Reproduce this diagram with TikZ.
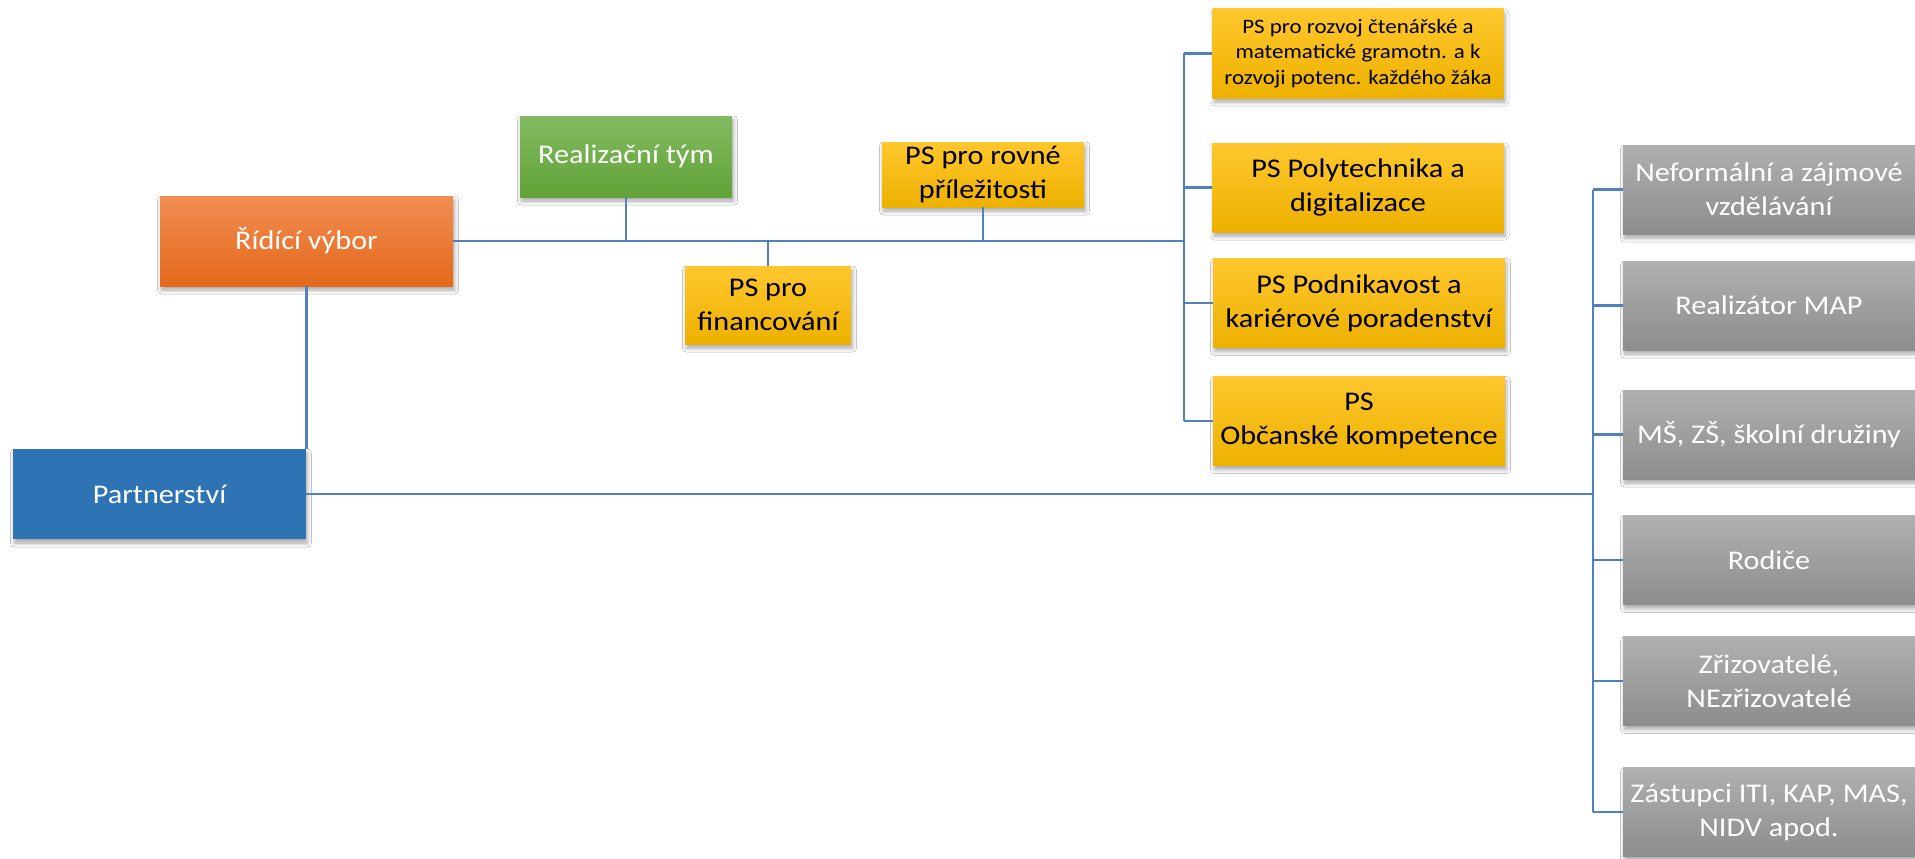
\documentclass[tikz,border=0pt]{standalone}
\usepackage{fontspec}
\setmainfont{Carlito}[FakeStretch=1.12]
\usetikzlibrary{shadows.blur}
\definecolor{lineblue}{HTML}{4F81BD}
\definecolor{orangeT}{HTML}{F28D52}
\definecolor{orangeB}{HTML}{E3691B}
\definecolor{greenT}{HTML}{82BB60}
\definecolor{greenB}{HTML}{61A239}
\definecolor{yellowT}{HTML}{FFC72E}
\definecolor{yellowB}{HTML}{EDB100}
\definecolor{blueF}{HTML}{2E74B5}
\definecolor{grayT}{HTML}{B0B0B0}
\definecolor{grayB}{HTML}{8D8D8D}
\tikzset{
  boxbase/.style={rectangle, inner sep=0pt, align=center,
    font=\fontsize{27}{34}\selectfont,
    blur shadow={shadow xshift=1.5pt, shadow yshift=-4pt, shadow blur steps=6, shadow blur radius=4pt, shadow opacity=35}},
  orangebox/.style={boxbase, top color=orangeT, bottom color=orangeB, text=white},
  greenbox/.style={boxbase, top color=greenT, bottom color=greenB, text=white},
  yellowbox/.style={boxbase, top color=yellowT, bottom color=yellowB, text=black},
  bluebox/.style={boxbase, fill=blueF, text=white},
  graybox/.style={boxbase, top color=grayT, bottom color=grayB, text=white,
    minimum width=292pt, minimum height=89pt},
  conn/.style={draw=lineblue, line width=2.2pt}
}
\begin{document}
\begin{tikzpicture}[x=1pt, y=-1pt]
\fill[white] (0,0) rectangle (1915,859);
\useasboundingbox (0,0) rectangle (1915,859);

% left side
\node[orangebox, minimum width=293pt, minimum height=90pt] (ridici) at (306.5,241) {Řídící výbor};
\node[greenbox, minimum width=212pt, minimum height=81pt] (realiz) at (626,156.5) {Realizační tým};
\node[yellowbox, minimum width=166pt, minimum height=78pt] (financ) at (768,305) {PS pro\\financování};
\node[yellowbox, minimum width=202pt, minimum height=65pt] (rovne) at (983,174.5) {PS pro rovné\\příležitosti};
\node[bluebox, minimum width=293pt, minimum height=90pt] (partner) at (159.5,494) {Partnerství};

% right yellow column
\node[yellowbox, minimum width=291pt, minimum height=89pt, font=\fontsize{20.5}{25.5}\selectfont] (ps1) at (1358,53.5) {PS pro rozvoj čtenářské a\\matematické gramotn. a k\\rozvoji potenc. každého žáka};
\node[yellowbox, minimum width=291pt, minimum height=89pt] (ps2) at (1358,187.5) {PS Polytechnika a\\digitalizace};
\node[yellowbox, minimum width=292pt, minimum height=89pt] (ps3) at (1359,303) {PS Podnikavost a\\kariérové poradenství};
\node[yellowbox, minimum width=292pt, minimum height=89pt] (ps4) at (1359,421) {PS\\Občanské kompetence};

% gray column
\node[graybox] (g1) at (1769,189.5) {Neformální a zájmové\\vzdělávání};
\node[graybox] (g2) at (1769,305.5) {Realizátor MAP};
\node[graybox] (g3) at (1769,434.5) {MŠ, ZŠ, školní družiny};
\node[graybox] (g4) at (1769,560) {Rodiče};
\node[graybox] (g5) at (1769,681) {Zřizovatelé,\\NEzřizovatelé};
\node[graybox] (g6) at (1769,812) {Zástupci ITI, KAP, MAS,\\NIDV apod.};

\coordinate (busA) at (1184,241);
\coordinate (busB) at (1593,494);

% connectors
\draw[conn] (ridici.east) -- (busA);
\draw[conn] (realiz.south) -- (realiz.south |- busA);
\draw[conn] (financ.north) -- (financ.north |- busA);
\draw[conn] (rovne.south) -- (rovne.south |- busA);
\draw[conn] (ps1.west -| busA) -- (ps4.west -| busA);
\foreach \n in {ps1,ps2,ps3,ps4} \draw[conn] (\n.west -| busA) -- (\n.west);

\draw[conn] (ridici.south) -- (ridici.south |- partner.north);
\draw[conn] (partner.east) -- (busB);
\draw[conn] (g1.west -| busB) -- (g6.west -| busB);
\foreach \n in {g1,g2,g3,g4,g5,g6} \draw[conn] (\n.west -| busB) -- (\n.west);
\end{tikzpicture}
\end{document}
